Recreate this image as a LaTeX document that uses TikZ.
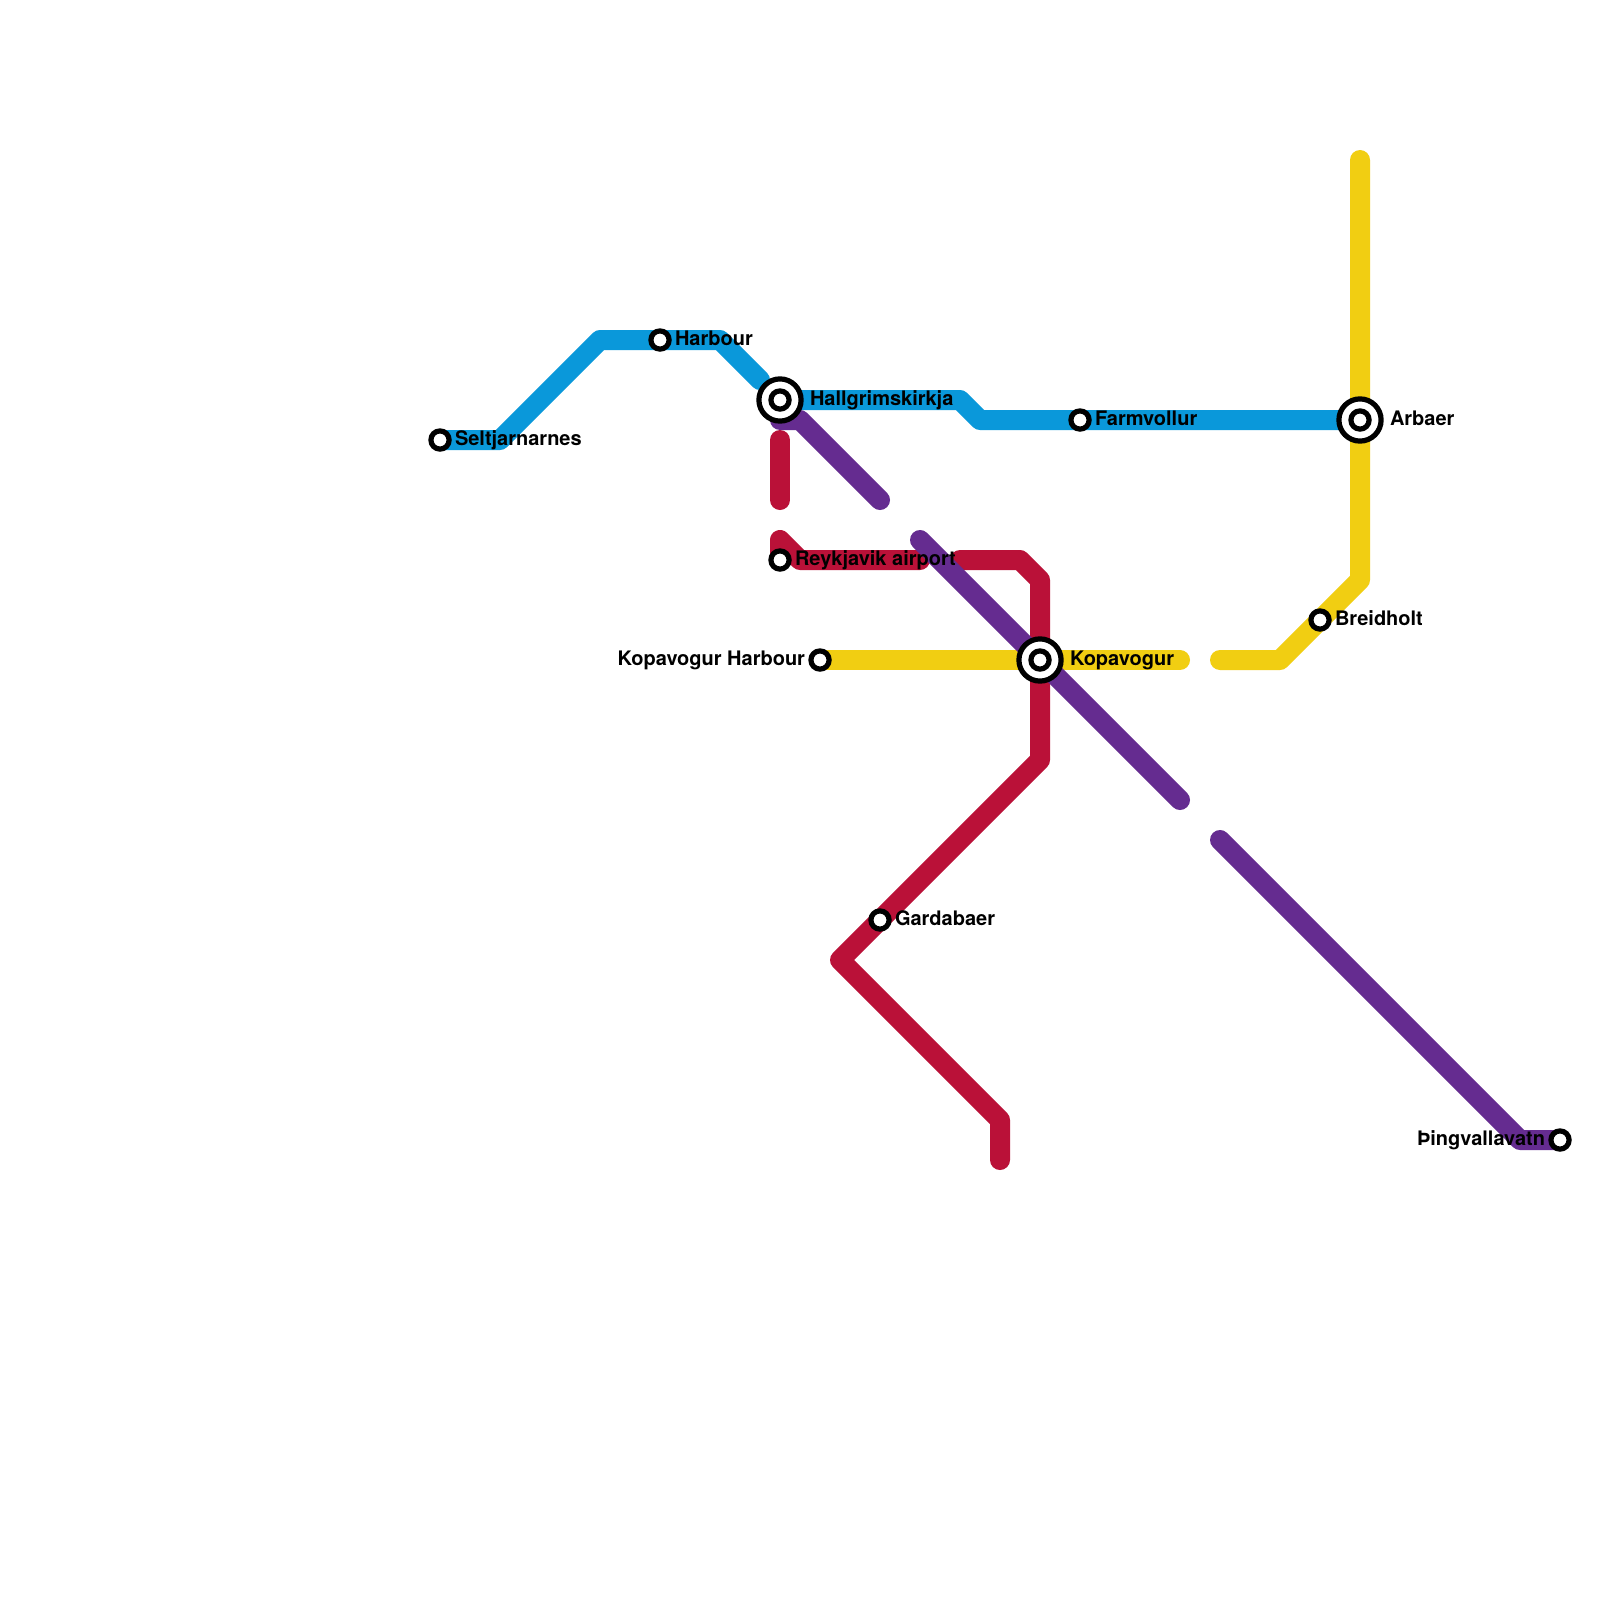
\documentclass[tikz,border=0pt]{standalone}
\usepackage{fontspec}
\setmainfont{TeX Gyre Heros}
\definecolor{lineblue}{HTML}{0A98DA}
\definecolor{linered}{HTML}{BA1138}
\definecolor{lineyellow}{HTML}{F1CE12}
\definecolor{linepurple}{HTML}{652C90}
\tikzset{
  metro/.style={line width=10pt,line join=round,line cap=round},
  stop/.style={circle,draw=black,fill=white,line width=2.6pt,minimum size=9.1pt,inner sep=0pt,outer sep=0pt},
  hubring/.style={circle,draw=black,fill=white,line width=2.6pt,minimum size=21.1pt,inner sep=0pt,outer sep=0pt},
  lbl/.style={font=\fontsize{10pt}{11pt}\selectfont\bfseries,text=black,inner sep=0pt,outer sep=0pt},
  lblr/.style={lbl,anchor=base west},
  lbll/.style={lbl,anchor=base east}
}
\begin{document}
\begin{tikzpicture}[x=0.5pt,y=-0.5pt]
\useasboundingbox (0,0) rectangle (1600,1600);
\fill[white] (0,0) rectangle (1600,1600);
% waypoints
\coordinate (selt) at (440,440);
\coordinate (harb) at (660,340);
\coordinate (hall) at (780,400);
\coordinate (farm) at (1080,420);
\coordinate (arba) at (1360,420);
\coordinate (brei) at (1320,620);
\coordinate (kopa) at (1040,660);
\coordinate (koph) at (820,660);
\coordinate (reyk) at (780,560);
\coordinate (gard) at (880,920);
\coordinate (ping) at (1560,1140);
\coordinate (b1) at (500,440);
\coordinate (b2) at (600,340);
\coordinate (b3) at (720,340);
\coordinate (b6) at (760,380);
\coordinate (b4) at (960,400);
\coordinate (b5) at (980,420);
\coordinate (y1) at (1360,160);
\coordinate (y2) at (1360,580);
\coordinate (y3) at (1280,660);
\coordinate (y4) at (1220,660);
\coordinate (y5) at (1180,660);
\coordinate (r1) at (780,440);
\coordinate (r2) at (780,500);
\coordinate (r3) at (780,540);
\coordinate (r4) at (800,560);
\coordinate (r5) at (920,560);
\coordinate (r6) at (960,560);
\coordinate (r7) at (1020,560);
\coordinate (r8) at (1040,580);
\coordinate (r9) at (1040,760);
\coordinate (r10) at (840,960);
\coordinate (r11) at (1000,1120);
\coordinate (r12) at (1000,1160);
\coordinate (p1) at (780,420);
\coordinate (p2) at (800,420);
\coordinate (p3) at (880,500);
\coordinate (p4) at (920,540);
\coordinate (p5) at (1180,800);
\coordinate (p6) at (1220,840);
\coordinate (p7) at (1520,1140);
% lines
\draw[metro,lineyellow] (y1) -- (y2) -- (y3) -- (y4);
\draw[metro,lineyellow] (y5) -- (koph);
\draw[metro,linered] (r1) -- (r2);
\draw[metro,linered] (reyk) -- (r3) -- (r4) -- (r5);
\draw[metro,linered] (r6) -- (r7) -- (r8) -- (r9) -- (r10) -- (r11) -- (r12);
\draw[metro,lineblue] (selt) -- (b1) -- (b2) -- (b3) -- (b6);
\draw[metro,lineblue] (hall) -- (b4) -- (b5) -- (arba);
\draw[metro,linepurple] (p1) -- (p2) -- (p3);
\draw[metro,linepurple] (p4) -- (p5);
\draw[metro,linepurple] (p6) -- (p7) -- (ping);
% stations
\node[stop] (nselt) at (selt) {};
\node[stop] (nharb) at (harb) {};
\node[stop] (nfarm) at (farm) {};
\node[stop] (nbrei) at (brei) {};
\node[stop] (nkoph) at (koph) {};
\node[stop] (nreyk) at (reyk) {};
\node[stop] (ngard) at (gard) {};
\node[stop] (nping) at (ping) {};
\node[hubring] (rhall) at (hall) {};
\node[stop] (nhall) at (hall) {};
\node[hubring] (rarba) at (arba) {};
\node[stop] (narba) at (arba) {};
\node[hubring] (rkopa) at (kopa) {};
\node[stop] (nkopa) at (kopa) {};
% labels
\node[lblr] (tselt) at (455,445) {Seltjarnarnes};
\node[lblr] (tharb) at (675,345) {Harbour};
\node[lblr] (thall) at (810,405) {Hallgrimskirkja};
\node[lblr] (tfarm) at (1095,425) {Farmvollur};
\node[lblr] (tarba) at (1390,425) {Arbaer};
\node[lblr] (tbrei) at (1335,625) {Breidholt};
\node[lblr] (tkopa) at (1070,665) {Kopavogur};
\node[lbll] (tkoph) at (805,665) {Kopavogur Harbour};
\node[lblr] (treyk) at (795,565) {Reykjavik airport};
\node[lblr] (tgard) at (895,925) {Gardabaer};
\node[lbll] (tping) at (1545,1145) {Þingvallavatn};
\end{tikzpicture}
\end{document}
